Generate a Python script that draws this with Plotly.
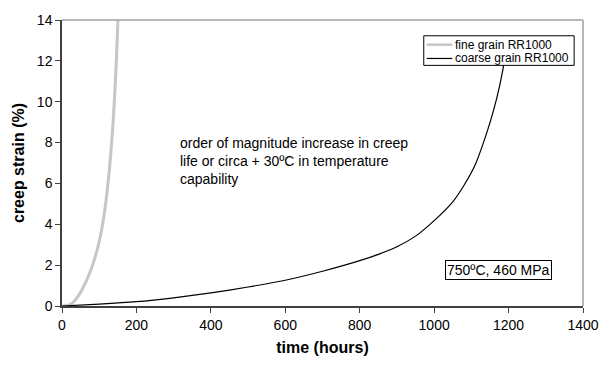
import plotly.graph_objects as go

series_names = ["fine grain RR1000", "coarse grain RR1000"]

fine_t = [0, 10, 20, 25, 30, 40, 50, 60, 70, 80, 90, 100, 110, 120, 127, 133, 138, 142, 146, 149, 152]
fine_s = [0, 0.01, 0.05, 0.1, 0.18, 0.4, 0.68, 1.02, 1.42, 1.88, 2.45, 3.15, 4.1, 5.4, 6.6, 7.9, 9.2, 10.5, 12.0, 13.4, 14.8]

coarse_t = [0, 100, 200, 300, 400, 500, 600, 700, 800, 850, 900, 950, 1000, 1050, 1080, 1110, 1140, 1160, 1175, 1185, 1195]
coarse_s = [0, 0.09, 0.21, 0.4, 0.64, 0.93, 1.26, 1.7, 2.22, 2.53, 2.9, 3.42, 4.18, 5.1, 5.9, 6.9, 8.4, 9.6, 10.7, 11.6, 12.6]

x_ticks = [0, 200, 400, 600, 800, 1000, 1200, 1400]
y_ticks = [0, 2, 4, 6, 8, 10, 12, 14]

FONT = "Liberation Sans, Arial, sans-serif"
FINE_COLOR = "#c6c6c6"

# plot area in pixels: x 62..592, y 16..306
def px(x):
    return (x - 62) / 530

def py(y):
    return (306 - y) / 290

fig = go.Figure()
fig.add_trace(go.Scatter(x=fine_t, y=fine_s, mode="lines", name=series_names[0],
                         line=dict(color=FINE_COLOR, width=3, shape="spline", smoothing=0.5)))
fig.add_trace(go.Scatter(x=coarse_t, y=coarse_s, mode="lines", name=series_names[1],
                         line=dict(color="#000000", width=1.2, shape="spline", smoothing=0.6)))

shapes = [
    dict(type="line", xref="paper", yref="paper", x0=0, x1=1, y0=1, y1=1,
         line=dict(color="#a0a0a0", width=1.5)),
    dict(type="line", xref="paper", yref="paper", x0=1, x1=1, y0=0, y1=1,
         line=dict(color="#a0a0a0", width=1.5)),
    # legend box
    dict(type="rect", xref="paper", yref="paper", x0=px(430), x1=px(583), y0=py(62), y1=py(32),
         line=dict(color="black", width=1), fillcolor="white", layer="above"),
    dict(type="line", xref="paper", yref="paper", x0=px(433), x1=px(459), y0=py(41), y1=py(41),
         line=dict(color=FINE_COLOR, width=2.5), layer="above"),
    dict(type="line", xref="paper", yref="paper", x0=px(433), x1=px(459), y0=py(55), y1=py(55),
         line=dict(color="black", width=1.2), layer="above"),
]

annotations = [
    dict(xref="paper", yref="paper", x=px(180), y=py(131),
         xanchor="left", yanchor="top", align="left", showarrow=False,
         text="order of magnitude increase in creep<br>life or circa + 30ºC in temperature<br>capability",
         font=dict(size=14)),
    dict(xref="paper", yref="paper", x=px(452), y=py(269),
         xanchor="left", yanchor="middle", showarrow=False,
         text="750ºC, 460 MPa", font=dict(size=14),
         bordercolor="black", borderwidth=1, borderpad=1, bgcolor="white"),
    dict(xref="paper", yref="paper", x=px(460), y=py(41), xanchor="left", yanchor="middle",
         showarrow=False, text=series_names[0], font=dict(size=12)),
    dict(xref="paper", yref="paper", x=px(460), y=py(55), xanchor="left", yanchor="middle",
         showarrow=False, text=series_names[1], font=dict(size=12)),
]

fig.update_layout(
    width=611, height=366,
    margin=dict(l=62, r=19, t=16, b=60),
    paper_bgcolor="white", plot_bgcolor="white",
    font=dict(family=FONT, size=14, color="black"),
    showlegend=False,
    xaxis=dict(range=[0, 1400], tickvals=x_ticks, showgrid=False, zeroline=False,
               showline=True, linecolor="#404040", linewidth=1.5,
               ticks="outside", ticklen=5, tickcolor="#404040",
               tickfont=dict(size=14),
               title=dict(text="<b>time (hours)</b>", font=dict(size=16), standoff=10)),
    yaxis=dict(range=[0, 14], tickvals=y_ticks, showgrid=False, zeroline=False,
               showline=True, linecolor="#404040", linewidth=1.5,
               ticks="outside", ticklen=5, tickcolor="#404040",
               tickfont=dict(size=14),
               title=dict(text="<b>creep strain (%)</b>", font=dict(size=16), standoff=8)),
    shapes=shapes,
    annotations=annotations,
)

fig.write_html("out.html")
